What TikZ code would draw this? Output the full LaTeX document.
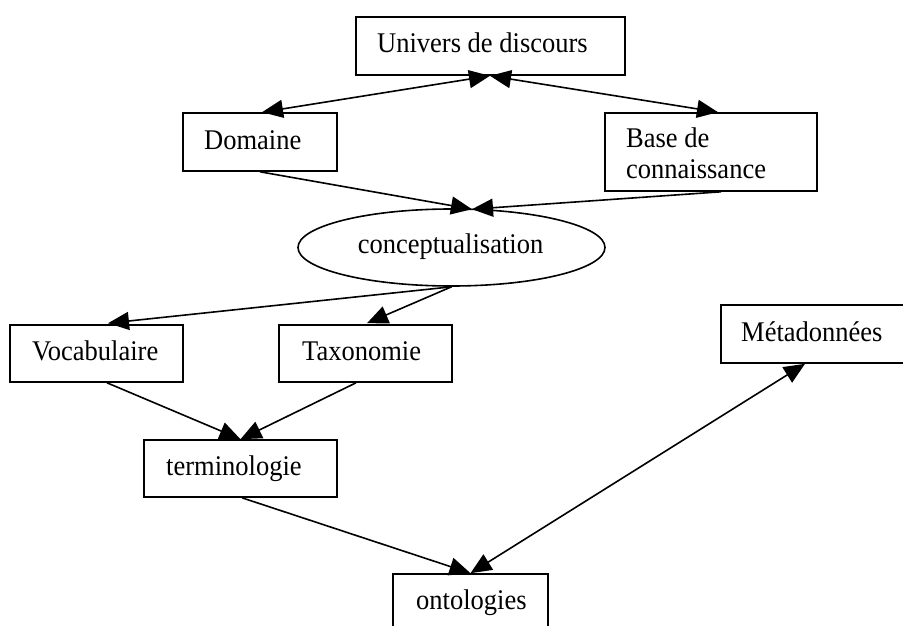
\documentclass[tikz,border=0pt]{standalone}
\usepackage{fontspec}
\setmainfont{Liberation Serif}
\usetikzlibrary{arrows.meta,calc,shapes.geometric}
\newcommand{\hsqz}[1]{\scalebox{0.93}[1]{#1}}
\begin{document}
\begin{tikzpicture}[x=1pt,y=-1pt,
  box/.style={draw,line width=1.6pt,rectangle,inner sep=0pt},
  oval/.style={draw,line width=1.6pt,ellipse,inner sep=0pt,minimum width=307pt,minimum height=77pt},
  lbl/.style={inner sep=0pt,anchor=base west,font=\fontsize{28.5}{33}\selectfont},
  conn/.style={line width=1.6pt,-{Triangle[length=21pt,width=18pt]}},
  bconn/.style={line width=1.6pt,{Triangle[length=21pt,width=18pt]}-{Triangle[length=21pt,width=18pt]}}]
\useasboundingbox (0,0) rectangle (903,626);
% boxes
\node[box,minimum width=269pt,minimum height=58pt] (univ) at (490.5,46) {};
\node[box,minimum width=154pt,minimum height=58pt] (dom) at (260,142) {};
\node[box,minimum width=212pt,minimum height=78pt] (base) at (711,152) {};
\node[oval] (ell) at (451.5,247.5) {};
\node[box,minimum width=173pt,minimum height=57pt] (voc) at (96.5,353.5) {};
\node[box,minimum width=173pt,minimum height=57pt] (tax) at (365.5,353.5) {};
\node[box,minimum width=193pt,minimum height=57pt] (term) at (240.5,468.5) {};
\node[box,minimum width=184pt,minimum height=58pt] (meta) at (813,334) {};
\node[box,minimum width=155pt,minimum height=70pt] (onto) at (470.5,609) {};
% texts
\node[lbl] (tuniv) at (377,53) {\hsqz{Univers de discours}};
\node[lbl] (tdom) at (204,149) {\hsqz{Domaine}};
\node[lbl] (tbase1) at (626,147) {\hsqz{Base de}};
\node[lbl] (tbase2) at (626,178) {\hsqz{connaissance}};
\node[lbl,anchor=base] (tell) at (450.5,253) {\hsqz{conceptualisation}};
\node[lbl] (tvoc) at (32,360) {\hsqz{Vocabulaire}};
\node[lbl] (ttax) at (302,360) {\hsqz{Taxonomie}};
\node[lbl] (tterm) at (166,475) {\hsqz{terminologie}};
\node[lbl] (tmeta) at (741,341) {\hsqz{Métadonnées}};
\node[lbl] (tonto) at (416,609) {\hsqz{ontologies}};
% connectors
\draw[bconn] ($(univ.south)+(-0.5,0)$) -- ($(dom.north)+(2,0)$);
\draw[bconn] ($(univ.south)+(-0.5,0)$) -- ($(base.north)+(7,0)$);
\draw[conn] (dom.south) -- ($(ell.north)+(20.5,1)$);
\draw[conn] ($(base.south)+(10,0)$) -- ($(ell.north)+(20.5,1)$);
\draw[conn] (ell.south) -- ($(voc.north)+(11.5,-1)$);
\draw[conn] (ell.south) -- ($(tax.north)+(1.5,-1)$);
\draw[conn] ($(voc.south)+(10.5,0)$) -- (term.north);
\draw[conn] ($(tax.south)+(-9.5,0)$) -- (term.north);
\draw[conn] ($(term.south)+(1.5,0)$) -- (onto.north);
\draw[bconn] ($(meta.south)+(-8,0)$) -- (onto.north);
\end{tikzpicture}
\end{document}
